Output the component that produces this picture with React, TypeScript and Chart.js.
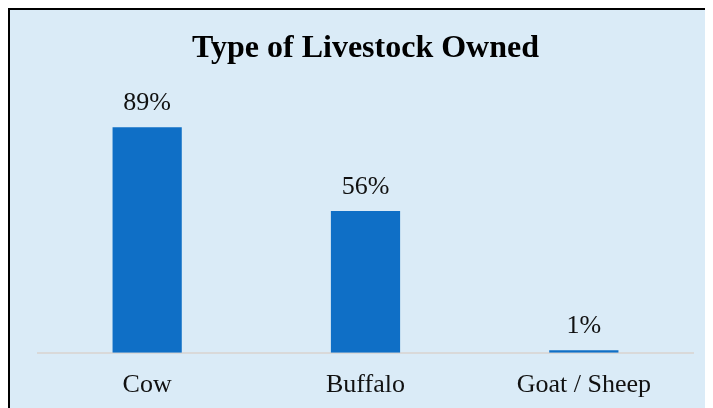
import React, { useEffect, useRef } from "react";
import { Chart, registerables } from "chart.js";

Chart.register(...registerables);

const categories = ["Cow", "Buffalo", "Goat / Sheep"];
const values = [89, 56, 1];
const valueLabels = ["89%", "56%", "1%"];
const chartTitle = "Type of Livestock Owned";

const FONT = "'Liberation Serif', 'Times New Roman', serif";

const labelPlugin = {
  id: "barLabels",
  afterDatasetsDraw(chart: any) {
    const ctx = chart.ctx;
    const meta = chart.getDatasetMeta(0);
    ctx.save();
    ctx.font = `26px ${FONT}`;
    ctx.fillStyle = "#111111";
    ctx.textAlign = "center";
    ctx.textBaseline = "alphabetic";
    meta.data.forEach((bar: any, i: number) => {
      ctx.fillText(valueLabels[i], bar.x, bar.y - 17);
    });
    ctx.restore();
  },
};

export default function App() {
  const ref = useRef<HTMLCanvasElement>(null);
  useEffect(() => {
    if (!ref.current) return;
    const chart = new Chart(ref.current, {
      type: "bar",
      data: {
        labels: categories,
        datasets: [
          {
            data: values,
            backgroundColor: "#0F6FC6",
            categoryPercentage: 1,
            barPercentage: 0.317,
          },
        ],
      },
      options: {
        animation: false,
        responsive: true,
        maintainAspectRatio: false,
        layout: { padding: { left: 28, right: 29, top: 0, bottom: 8 } },
        plugins: {
          legend: { display: false },
          tooltip: { enabled: false },
          title: {
            display: true,
            text: chartTitle,
            color: "#000000",
            font: { family: FONT, size: 32, weight: "bold" },
            padding: { top: 20, bottom: 31 },
          },
        },
        scales: {
          x: {
            grid: { display: false, drawTicks: false },
            border: { display: true, color: "#D9D9D9", width: 2 },
            ticks: {
              color: "#111111",
              font: { family: FONT, size: 26 },
              padding: 17,
            },
          },
          y: {
            display: false,
            min: 0,
            max: 100,
          },
        },
      },
      plugins: [labelPlugin],
    });
    return () => chart.destroy();
  }, []);
  return (
    <div style={{ width: 705, height: 400, overflow: "hidden" }}>
      <div
        style={{
          width: 712,
          height: 416,
          border: "2px solid #000",
          background: "#DAEBF7",
          position: "relative",
        }}
      >
        <canvas ref={ref} />
      </div>
    </div>
  );
}
